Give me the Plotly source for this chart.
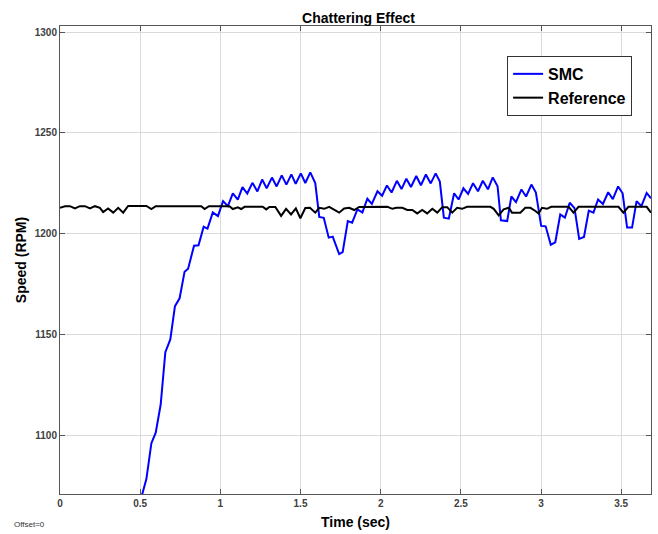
import plotly.graph_objects as go

# ---- data ----
smc_t = [0.490, 0.539, 0.570, 0.597, 0.628, 0.657, 0.688, 0.717, 0.746, 0.777,
         0.799, 0.836, 0.864, 0.896, 0.920, 0.953, 0.985, 1.017, 1.047, 1.078,
         1.109, 1.138, 1.168, 1.200, 1.231, 1.261, 1.289, 1.322, 1.351, 1.383,
         1.412, 1.443, 1.470, 1.502, 1.530, 1.561, 1.592, 1.617, 1.645, 1.676,
         1.701, 1.741, 1.763, 1.795, 1.822, 1.855, 1.886, 1.917, 1.945, 1.980,
         2.009, 2.039, 2.068, 2.101, 2.130, 2.160, 2.189, 2.222, 2.251, 2.282,
         2.312, 2.343, 2.369, 2.394, 2.425, 2.458, 2.486, 2.516, 2.545, 2.576,
         2.607, 2.637, 2.669, 2.699, 2.729, 2.750, 2.789, 2.815, 2.844, 2.878,
         2.907, 2.940, 2.968, 3.001, 3.029, 3.061, 3.089, 3.120, 3.149, 3.179,
         3.209, 3.238, 3.268, 3.298, 3.327, 3.356, 3.386, 3.419, 3.448, 3.481,
         3.509, 3.537, 3.568, 3.596, 3.626, 3.659, 3.686]
smc_v = [1064.0, 1078.3, 1096.0, 1101.2, 1115.2, 1141.2, 1147.5, 1164.0, 1167.9, 1181.1,
         1182.6, 1194.0, 1194.2, 1203.4, 1202.5, 1210.5, 1208.7, 1216.1, 1213.6, 1220.0,
         1216.9, 1223.1, 1219.9, 1225.2, 1220.9, 1226.8, 1222.5, 1227.8, 1223.4, 1228.9,
         1224.3, 1229.4, 1224.7, 1229.9, 1225.1, 1230.4, 1225.1, 1208.3, 1207.8, 1198.0,
         1198.5, 1189.8, 1190.8, 1206.2, 1205.4, 1212.0, 1210.5, 1217.3, 1214.7, 1221.0,
         1218.8, 1223.9, 1220.4, 1226.2, 1222.1, 1227.2, 1223.1, 1228.6, 1224.0, 1229.3,
         1224.9, 1229.9, 1225.8, 1207.9, 1207.4, 1220.0, 1216.9, 1222.5, 1219.7, 1225.0,
         1221.0, 1226.2, 1222.0, 1227.9, 1223.5, 1206.6, 1206.2, 1218.4, 1215.6, 1221.9,
         1218.4, 1224.3, 1220.4, 1203.8, 1203.6, 1194.5, 1195.7, 1209.5, 1207.9, 1215.3,
         1212.6, 1197.4, 1198.3, 1211.4, 1210.4, 1216.9, 1214.7, 1220.5, 1217.1, 1223.4,
         1220.0, 1203.0, 1203.0, 1216.1, 1213.6, 1220.2, 1217.5]

ref_t = [0.000, 0.031, 0.062, 0.093, 0.124, 0.156, 0.187, 0.218, 0.249, 0.269,
         0.300, 0.332, 0.363, 0.394, 0.425, 0.539, 0.570, 0.597, 0.881, 0.902,
         0.929, 1.057, 1.078, 1.109, 1.130, 1.151, 1.264, 1.286, 1.306, 1.343,
         1.379, 1.410, 1.441, 1.471, 1.499, 1.530, 1.559, 1.592, 1.617, 1.648,
         1.679, 1.710, 1.741, 1.772, 1.804, 1.835, 1.866, 2.042, 2.073, 2.098,
         2.135, 2.166, 2.197, 2.228, 2.259, 2.290, 2.322, 2.353, 2.384, 2.415,
         2.446, 2.477, 2.508, 2.539, 2.685, 2.705, 2.736, 2.767, 2.799, 2.819,
         2.871, 2.902, 2.934, 2.965, 2.985, 3.006, 3.037, 3.064, 3.172, 3.203,
         3.234, 3.483, 3.514, 3.545, 3.659, 3.686]
ref_v = [1212.8, 1213.6, 1213.6, 1212.5, 1213.6, 1213.6, 1212.5, 1213.6, 1212.8, 1210.7,
         1212.5, 1210.4, 1212.8, 1210.4, 1213.7, 1213.7, 1212.2, 1213.6, 1213.6, 1212.2,
         1213.6, 1213.6, 1212.2, 1213.0, 1212.2, 1213.3, 1213.3, 1212.0, 1213.2, 1213.2,
         1208.8, 1212.3, 1209.5, 1212.5, 1207.6, 1212.7, 1212.8, 1210.4, 1212.8, 1212.3,
         1213.3, 1212.0, 1210.4, 1212.5, 1212.8, 1211.7, 1213.2, 1213.3, 1212.3, 1212.8,
         1212.8, 1211.7, 1211.7, 1210.0, 1211.7, 1210.0, 1212.3, 1210.4, 1213.1, 1213.1,
         1210.4, 1212.8, 1212.3, 1213.3, 1213.3, 1212.3, 1209.0, 1212.0, 1212.8, 1210.4,
         1210.4, 1212.8, 1212.8, 1211.2, 1210.0, 1212.8, 1212.3, 1213.3, 1213.3, 1210.4,
         1213.3, 1213.3, 1210.4, 1213.3, 1213.3, 1210.4]

x_ticks = [0, 0.5, 1, 1.5, 2, 2.5, 3, 3.5]
x_tick_text = ["0", "0.5", "1", "1.5", "2", "2.5", "3", "3.5"]
y_ticks = [1100, 1150, 1200, 1250, 1300]
y_tick_text = ["1100", "1150", "1200", "1250", "1300"]

FONT = "Liberation Sans, Arial, Helvetica, sans-serif"

fig = go.Figure()
fig.add_trace(go.Scatter(x=smc_t, y=smc_v, mode="lines", name="SMC",
                         line=dict(color="#0000ff", width=2)))
fig.add_trace(go.Scatter(x=ref_t, y=ref_v, mode="lines", name="Reference",
                         line=dict(color="#000000", width=2)))

axis_common = dict(
    showgrid=True, gridcolor="#dadada", gridwidth=1,
    showline=True, linecolor="#555555", linewidth=1, mirror="ticks",
    ticks="inside", ticklen=5, tickcolor="#555555",
    zeroline=False,
    tickfont=dict(family=FONT, size=10, color="#404040", weight="bold"),
)

fig.update_layout(
    width=658, height=534,
    margin=dict(l=60, r=6, t=26, b=38),
    paper_bgcolor="white", plot_bgcolor="white",
    showlegend=True,
    title=dict(text="<b>Chattering Effect</b>", x=(358.5 / 658), xanchor="center",
               y=1 - 18 / 534, yanchor="middle",
               font=dict(family=FONT, size=14, color="#000000")),
    legend=dict(x=0.968, y=0.936, xanchor="right", yanchor="top",
                bgcolor="white", bordercolor="#333333", borderwidth=1,
                font=dict(family=FONT, size=16, color="#000000", weight="bold"),
                tracegroupgap=0, itemwidth=30),
    xaxis=dict(range=[0, 3.686], tickvals=x_ticks, ticktext=x_tick_text,
               title=dict(text="<b>Time (sec)</b>", standoff=9,
                          font=dict(family=FONT, size=14, color="#000000")),
               **axis_common),
    yaxis=dict(range=[1070.8, 1303.0], tickvals=y_ticks, ticktext=y_tick_text,
               title=dict(text="<b>Speed (RPM)</b>", standoff=4,
                          font=dict(family=FONT, size=14, color="#000000")),
               **axis_common),
    annotations=[dict(text="Offset=0", xref="paper", yref="paper",
                      x=(12 - 60) / 592, y=(496 - 527) / 470,
                      xanchor="left", yanchor="middle", showarrow=False,
                      font=dict(family=FONT, size=8, color="#333333"))],
)

fig.write_html("out.html")
